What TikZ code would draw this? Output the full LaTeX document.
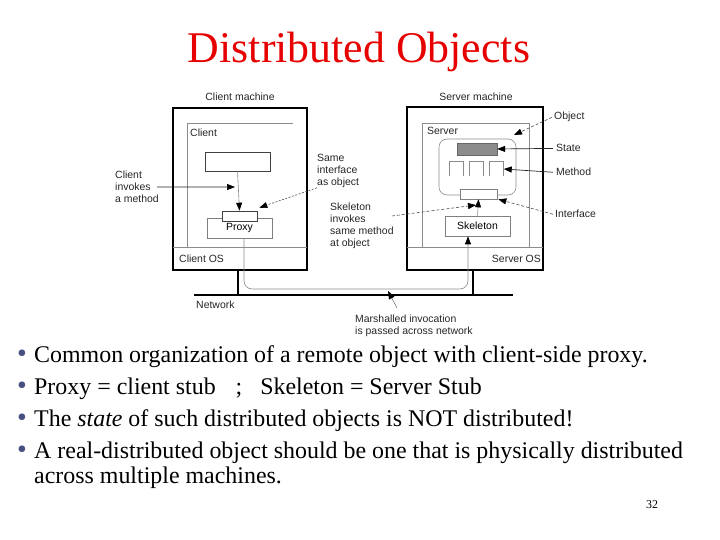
\documentclass[tikz,border=0pt]{standalone}
\usepackage{fontspec}
\setmainfont{Liberation Serif}
\newfontfamily\labelfont{Liberation Sans}
\usetikzlibrary{arrows.meta,positioning}
\definecolor{titlered}{RGB}{230,0,0}
\definecolor{bulletblue}{RGB}{70,80,130}
\tikzset{
  lbl/.style={font=\labelfont\fontsize{10.5}{12}\selectfont, text=black!85, inner sep=0pt, align=left},
  frame/.style={draw=black, line width=1.1bp, inner sep=0pt},
  box/.style={draw=black!50, line width=0.6bp, inner sep=0pt, font=\labelfont\fontsize{10.5}{12}\selectfont},
  thin/.style={draw=black!45, line width=0.6bp},
  tip/.style={-{Triangle[length=8bp,width=6bp,color=black]}},
  guide/.style={black!70, line width=0.6bp, dash pattern=on 3bp off 2bp},
  pointer/.style={black!85, line width=0.7bp},
  bullettext/.style={font=\fontsize{24}{28}\selectfont, anchor=base west, inner sep=0pt},
  dot/.style={font=\fontsize{28}{30}\selectfont, text=bulletblue, anchor=base, inner sep=0pt}
}
\begin{document}
\begin{tikzpicture}[x=1bp,y=-1bp]
\useasboundingbox (0,0) rectangle (720,540);

\node[font=\fontsize{44}{50}\selectfont, text=titlered, anchor=base] (title) at (359,63) {Distributed Objects};

% machines
\node[frame, minimum width=134bp, minimum height=162bp] (cm) at (240,189) {};
\node[frame, minimum width=136bp, minimum height=163bp] (sm) at (475,188.5) {};
\node[lbl, anchor=base] (cmlbl) at (240,101) {Client machine};
\node[lbl, anchor=base] (smlbl) at (476,101) {Server machine};
\draw[thin] (173,247) -- (307,247);
\draw[thin] (187,247) -- (187,123) -- (293,123);
\draw[thin] (407,247) -- (543,247);
\draw[thin] (422,247) -- (422,123) -- (529,123) -- (529,247);
\node[lbl, anchor=base west] (client) at (190,137) {Client};
\node[lbl, anchor=base west] (server) at (427,135) {Server};
\node[lbl, anchor=base west] (clos) at (179,263) {Client OS};
\node[lbl, anchor=base east] (svos) at (541,263) {Server OS};

% client side
\node[box, draw=black!75, minimum width=65bp, minimum height=19bp] (cobj) at (237.5,161.5) {};
\node[box, minimum width=65bp, minimum height=20bp] (proxy) at (239.5,228) {Proxy};
\node[box, draw=black!75, fill=white, minimum width=35bp, minimum height=10bp] (pint) at (239.5,216) {};
\draw[thin, tip] (cobj.south) -- (pint.north);

% server side
\node[draw=black!45, line width=0.6bp, rounded corners=8bp, minimum width=77bp, minimum height=56bp] (obj) at (477.5,167) {};
\node[draw=black!60, fill=black!45, inner sep=0pt, minimum width=40bp, minimum height=12bp] (state) at (477,149) {};
\foreach \mx [count=\i] in {456,476,496.5} {
  \node[inner sep=0pt, minimum width=14bp, minimum height=14bp] (m\i) at (\mx,169) {};
  \draw[thin] (m\i.south west) -- (m\i.north west) -- (m\i.north east) -- (m\i.south east);
}
\node[box, fill=white, minimum width=37bp, minimum height=10bp] (iface) at (478.5,194) {};
\node[box, minimum width=65bp, minimum height=20bp] (skel) at (477.5,226) {Skeleton};
\draw[thin, tip] (skel.north) -- (iface.south);

% network
\coordinate (netw) at (194,295);
\coordinate (nete) at (513,295);
\draw[line width=1.6bp] (netw) -- (nete);
\draw[line width=1.6bp] ([xshift=-2bp]cm.south) -- ([xshift=-2bp]cm.south |- netw);
\draw[line width=1.6bp] ([xshift=-2bp]sm.south) -- ([xshift=-2bp]sm.south |- netw);
\draw[thin, rounded corners=8bp, tip] ([xshift=4.5bp]proxy.south) -- (244,289) -- (468,289) -- ([xshift=-9.5bp]skel.south);
\node[lbl, anchor=base west] (netl) at (196,308) {Network};

% labels and pointers
\node[lbl, anchor=north west] (cinv) at (115,171) {Client\\invokes\\a method};
\coordinate (cinvtip) at (235,187);
\draw[pointer, tip] ([xshift=-2bp]cinv.east) -- (cinvtip);

\node[lbl, anchor=north west] (sameif) at (317,154) {Same\\interface\\as object};
\draw[guide, dash pattern=on 2bp off 1.5bp, tip] (sameif.south west) -- ([xshift=2bp,yshift=3bp]pint.north east);

\node[lbl, anchor=north west] (skinv) at (330,203) {Skeleton\\invokes\\same method\\at object};
\coordinate (skinvtip) at (476,205);
\draw[guide, tip] ([xshift=-2bp,yshift=-13bp]skinv.north east) -- (skinvtip);

\node[lbl, anchor=base west] (objl) at (554,120) {Object};
\coordinate (objtip) at (514,135);
\draw[guide, tip] ([xshift=-2bp]objl.west) -- (objtip);

\node[lbl, anchor=base west] (statel) at (556,152) {State};
\draw[pointer, tip] ([xshift=-3bp]statel.west) -- (state.east);

\node[lbl, anchor=base west] (methl) at (556,176) {Method};
\draw[pointer, tip] ([xshift=-3bp]methl.west) -- (m3.east);

\node[lbl, anchor=base west] (ifl) at (555,218) {Interface};
\draw[guide, tip] ([xshift=-2bp]ifl.west) -- ([xshift=1bp]iface.south east);

\node[lbl, anchor=north west] (marsh) at (355,315) {Marshalled invocation\\is passed across network};
\coordinate (marshtip) at (388,291);
\draw[black!60, line width=0.5bp, tip] ([xshift=42bp,yshift=7bp]marsh.north west) -- (marshtip);

% bullets
\foreach \by [count=\i] in {362,394,426,458}
  \node[dot] (dot\i) at (22,\by) {•};
\node[bullettext] (b1) at (34,362) {Common organization of a remote object with client-side proxy.};
\node[bullettext] (b2) at (34,394) {Proxy = client stub\hspace{20bp};\hspace{18bp}Skeleton = Server Stub};
\node[bullettext] (b3) at (34,426) {The \textit{state} of such distributed objects is NOT distributed!};
\node[bullettext] (b4) at (34,458) {A real-distributed object should be one that is physically distributed};
\node[bullettext] (b5) at (34,483) {across multiple machines.};

\node[font=\fontsize{12}{14}\selectfont, anchor=base] (pgno) at (652,508) {32};
\end{tikzpicture}
\end{document}
